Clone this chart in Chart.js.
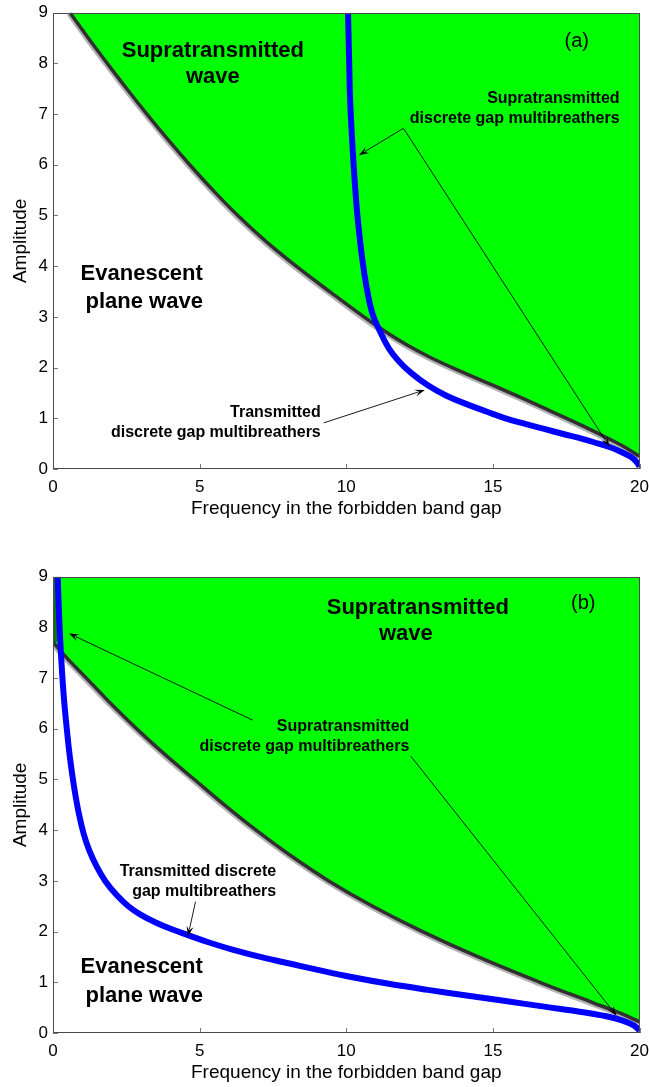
<!DOCTYPE html>
<html>
<head>
<meta charset="utf-8">
<title>Gap multibreathers</title>
<script src="https://cdn.jsdelivr.net/npm/chart.js@4.4.1/dist/chart.umd.min.js"></script>
<style>
  html, body { margin: 0; padding: 0; background: #fff; overflow: hidden; }
  canvas { position: absolute; left: 0; }
  #panelA { top: 0; }
  #panelB { top: 564px; }
</style>
</head>
<body>
<canvas id="panelA" width="649" height="530"></canvas>
<canvas id="panelB" width="649" height="530"></canvas>
<script>
const xTicks = [0, 5, 10, 15, 20]
const yTicks = [0, 1, 2, 3, 4, 5, 6, 7, 8, 9]

// (a) supratransmission threshold and the discrete gap multibreather branch
const edgeFreqA = [0.58, 1.2, 1.85, 2.5, 3.2, 3.9, 4.6, 5.45, 6.3, 7.3, 8.4, 9.5, 10.6, 11.2, 12.0, 12.8, 14.0, 15.4, 16.75, 18.1, 18.9, 19.5, 20]
const edgeAmpA = [9.0, 8.5, 8.0, 7.51, 7.0, 6.51, 6.04, 5.5, 5.0, 4.47, 3.95, 3.47, 3.0, 2.76, 2.47, 2.22, 1.9, 1.55, 1.2, 0.84, 0.61, 0.43, 0.25]
const breatherFreqA = [10.06, 10.08, 10.1, 10.13, 10.18, 10.25, 10.31, 10.38, 10.47, 10.58, 10.72, 10.9, 11.12, 11.45, 11.8, 12.2, 12.78, 13.4, 14.1, 14.8, 15.43, 16.1, 16.75, 17.4, 18.08, 18.6, 19.0, 19.4, 19.7, 19.9, 20]
const breatherAmpA = [9.0, 8.5, 8.0, 7.3, 6.7, 6.0, 5.5, 5.0, 4.5, 4.0, 3.5, 3.05, 2.75, 2.38, 2.12, 1.9, 1.65, 1.45, 1.28, 1.13, 1.0, 0.89, 0.79, 0.69, 0.59, 0.5, 0.43, 0.33, 0.24, 0.14, 0.05]

// (b)
const edgeFreqB = [0, 0.5, 1.0, 1.5, 2.0, 3.0, 3.9, 4.82, 5.8, 6.88, 8.1, 9.4, 10.9, 12.6, 14.5, 16.6, 18.4, 19.3, 20]
const edgeAmpB = [7.71, 7.38, 7.08, 6.78, 6.48, 5.92, 5.45, 5.0, 4.52, 4.02, 3.5, 3.0, 2.5, 2.0, 1.5, 1.0, 0.6, 0.4, 0.22]
const wallFreqB = [0, 0]
const wallAmpB = [9, 7.71]
const breatherFreqB = [0.16, 0.2, 0.25, 0.31, 0.38, 0.47, 0.58, 0.72, 0.88, 1.05, 1.25, 1.51, 1.78, 2.17, 2.57, 2.97, 3.5, 4.03, 4.56, 5.35, 6.15, 7.14, 8.14, 9.07, 10.13, 11.45, 12.78, 14.1, 15.43, 16.75, 18.08, 18.87, 19.4, 19.8, 20]
const breatherAmpB = [9.0, 8.36, 7.71, 7.11, 6.55, 6.0, 5.42, 4.85, 4.33, 3.92, 3.58, 3.26, 3.0, 2.72, 2.5, 2.34, 2.18, 2.05, 1.94, 1.78, 1.64, 1.49, 1.36, 1.24, 1.11, 0.97, 0.85, 0.74, 0.63, 0.52, 0.41, 0.33, 0.25, 0.15, 0.05]

const sans = '"Liberation Sans", Arial, Helvetica, sans-serif'
const bigFont = 'bold 22px ' + sans
const smallFont = 'bold 16px ' + sans
const tagFont = '20px ' + sans

const notesA = {
	labels: [
		{ x: [5.45, 5.45], y: [8.25, 7.73], lines: ['Supratransmitted', 'wave'], font: bigFont, align: 'center' },
		{ x: [17.86], y: [8.43], lines: ['(a)'], font: tagFont, align: 'center' },
		{ x: [19.32, 19.32], y: [7.31, 6.92], lines: ['Supratransmitted', 'discrete gap multibreathers'], font: smallFont, align: 'right' },
		{ x: [5.11, 5.11], y: [3.85, 3.3], lines: ['Evanescent', 'plane wave'], font: bigFont, align: 'right' },
		{ x: [9.13, 9.13], y: [1.11, 0.72], lines: ['Transmitted', 'discrete gap multibreathers'], font: smallFont, align: 'right' },
	],
	arrows: [
		{ from: [11.95, 6.72], to: [10.43, 6.19] },
		{ from: [11.95, 6.72], to: [18.98, 0.44] },
		{ from: [9.23, 0.91], to: [12.68, 1.56] },
	],
}

const notesB = {
	labels: [
		{ x: [12.44, 12.03], y: [8.38, 7.87], lines: ['Supratransmitted', 'wave'], font: bigFont, align: 'center' },
		{ x: [18.08], y: [8.48], lines: ['(b)'], font: tagFont, align: 'center' },
		{ x: [12.15, 12.15], y: [6.05, 5.65], lines: ['Supratransmitted', 'discrete gap multibreathers'], font: smallFont, align: 'right' },
		{ x: [7.61, 7.61], y: [3.18, 2.79], lines: ['Transmitted discrete', 'gap multibreathers'], font: smallFont, align: 'right' },
		{ x: [5.11, 5.11], y: [1.3, 0.73], lines: ['Evanescent', 'plane wave'], font: bigFont, align: 'right' },
	],
	arrows: [
		{ from: [6.81, 6.17], to: [0.55, 7.88] },
		{ from: [12.2, 5.46], to: [19.22, 0.34] },
		{ from: [4.86, 2.59], to: [4.6, 1.91] },
	],
}

function arrowTo(ctx, x0, y0, x1, y1) {
	const ang = Math.atan2(y1 - y0, x1 - x0)
	const len = 10
	const half = 3.5
	const c = Math.cos(ang)
	const s = Math.sin(ang)
	ctx.beginPath()
	ctx.moveTo(x0, y0)
	ctx.lineTo(x1 - c * len * 0.7, y1 - s * len * 0.7)
	ctx.stroke()
	ctx.beginPath()
	ctx.moveTo(x1, y1)
	ctx.lineTo(x1 - c * len - s * half, y1 - s * len + c * half)
	ctx.lineTo(x1 - c * len * 0.6, y1 - s * len * 0.6)
	ctx.lineTo(x1 - c * len + s * half, y1 - s * len - c * half)
	ctx.closePath()
	ctx.fill()
}

// inward ticks under the fill, box + annotations on top
const panelDecor = {
	id: 'panelDecor',
	beforeDatasetsDraw(chart) {
		const { ctx, chartArea: a } = chart
		const { x, y } = chart.scales
		ctx.save()
		ctx.strokeStyle = '#777'
		ctx.lineWidth = 1
		ctx.beginPath()
		for (const v of xTicks) {
			const px = Math.round(x.getPixelForValue(v)) + 0.5
			ctx.moveTo(px, a.bottom)
			ctx.lineTo(px, a.bottom - 5)
		}
		for (const v of yTicks) {
			const py = Math.round(y.getPixelForValue(v)) + 0.5
			ctx.moveTo(a.left, py)
			ctx.lineTo(a.left + 5, py)
		}
		ctx.stroke()
		ctx.restore()
	},
	afterDatasetsDraw(chart, args, opts) {
		const { ctx, chartArea: a } = chart
		const { x, y } = chart.scales
		ctx.save()
		ctx.strokeStyle = '#4a4a4a'
		ctx.lineWidth = 1
		ctx.strokeRect(Math.round(a.left) + 0.5, Math.round(a.top) + 0.5, Math.round(a.right - a.left) - 1, Math.round(a.bottom - a.top) - 1)

		ctx.strokeStyle = '#000'
		ctx.fillStyle = '#000'
		ctx.lineWidth = 0.9
		for (const ar of opts.arrows) {
			arrowTo(ctx,
				x.getPixelForValue(ar.from[0]), y.getPixelForValue(ar.from[1]),
				x.getPixelForValue(ar.to[0]), y.getPixelForValue(ar.to[1]))
		}

		ctx.textBaseline = 'middle'
		for (const lb of opts.labels) {
			ctx.font = lb.font
			ctx.textAlign = lb.align
			lb.lines.forEach((t, i) => {
				ctx.fillText(t, x.getPixelForValue(lb.x[i]), y.getPixelForValue(lb.y[i]))
			})
		}
		ctx.restore()
	},
}

function toPoints(xs, ys) {
	return xs.map((v, i) => ({ x: v, y: ys[i] }))
}

function buildPanel(id, curves, notes) {
	const edge = toPoints(curves.edgeFreq, curves.edgeAmp)
	const breather = toPoints(curves.breatherFreq, curves.breatherAmp)
	const line = { pointRadius: 0, tension: 0.4, clip: 0 }

	const datasets = [
		{ ...line, label: 'multibreathers', data: breather, borderColor: '#0000ff', borderWidth: 6, order: 0 },
		{ ...line, label: 'threshold', data: edge, borderColor: '#303030', borderWidth: 3.5, order: 1 },
		{ ...line, label: 'supratransmitted', data: edge, borderWidth: 0, borderColor: 'rgba(0,0,0,0)', backgroundColor: '#00ff00', fill: 'end', order: 3 },
		{ ...line, label: 'halo', data: edge, borderColor: 'rgba(0,0,0,0.3)', borderWidth: 8, order: 4 },
	]
	if (curves.wallFreq) {
		datasets.push({ ...line, tension: 0, label: 'wall', data: toPoints(curves.wallFreq, curves.wallAmp), borderColor: 'rgba(20,70,20,0.75)', borderWidth: 8, order: 2 })
	}

	return new Chart(document.getElementById(id), {
		type: 'line',
		data: { datasets },
		options: {
			responsive: false,
			animation: false,
			events: [],
			layout: { padding: { top: 12.7, right: 0, left: 0, bottom: 0 } },
			plugins: {
				legend: { display: false },
				tooltip: { enabled: false },
				panelDecor: notes,
			},
			scales: {
				x: {
					type: 'linear',
					min: 0,
					max: 20,
					afterBuildTicks: s => { s.ticks = xTicks.map(v => ({ value: v })) },
					afterFit: s => { s.height = 61 },
					grid: { display: false, drawTicks: true, tickLength: 8 },
					border: { display: false },
					ticks: { color: '#000', padding: 0, maxRotation: 0, font: { family: sans, size: 17 } },
					title: {
						display: true,
						text: 'Frequency in the forbidden band gap',
						color: '#000',
						font: { family: sans, size: 19 },
						padding: { top: 0, bottom: 10 },
					},
				},
				y: {
					type: 'linear',
					min: 0,
					max: 9,
					afterBuildTicks: s => { s.ticks = yTicks.map(v => ({ value: v })) },
					afterFit: s => { s.width = 53 },
					grid: { display: false, drawTicks: true, tickLength: 5 },
					border: { display: false },
					ticks: { color: '#000', padding: 0, font: { family: sans, size: 17 } },
					title: {
						display: true,
						text: 'Amplitude',
						color: '#000',
						font: { family: sans, size: 19 },
						padding: { top: 9, bottom: 0 },
					},
				},
			},
		},
		plugins: [panelDecor],
	})
}

buildPanel('panelA', {
	edgeFreq: edgeFreqA, edgeAmp: edgeAmpA,
	breatherFreq: breatherFreqA, breatherAmp: breatherAmpA,
}, notesA)

buildPanel('panelB', {
	edgeFreq: edgeFreqB, edgeAmp: edgeAmpB,
	wallFreq: wallFreqB, wallAmp: wallAmpB,
	breatherFreq: breatherFreqB, breatherAmp: breatherAmpB,
}, notesB)
</script>
</body>
</html>
